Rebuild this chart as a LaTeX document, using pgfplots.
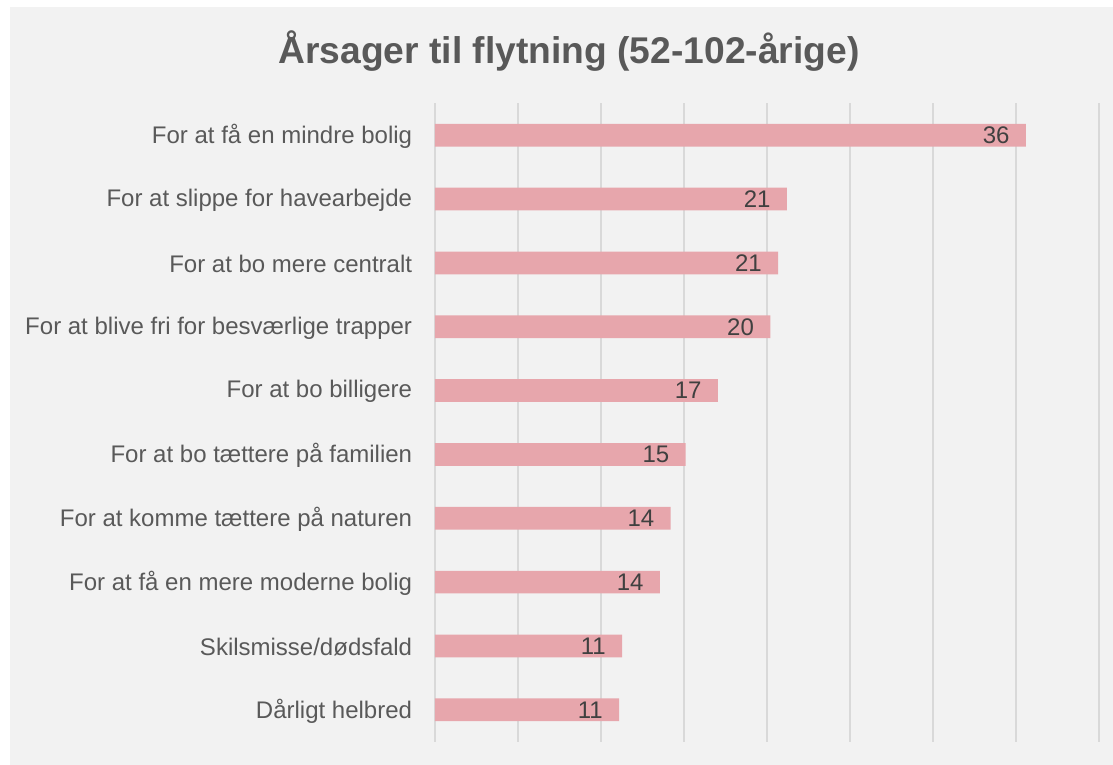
\documentclass[border=0pt]{standalone}
\usepackage{fontspec}
\setmainfont{Liberation Sans}
\usepackage{pgfplots}
\pgfplotsset{compat=1.18}
\definecolor{bgray}{HTML}{F2F2F2}
\definecolor{gridc}{HTML}{D9D9D9}
\definecolor{barc}{HTML}{E7A6AC}
\definecolor{labc}{HTML}{595959}
\definecolor{valc}{HTML}{404040}

\begin{document}
\begin{tikzpicture}
% canvas: 1 px = 0.5pt, axis south west at origin
\path[use as bounding box,fill=white] (-217.5pt,-11.65pt) rectangle (339pt,370.85pt);
\fill[bgray] (-212.5pt,-11.65pt) rectangle (339pt,367.35pt);
\begin{axis}[
  at={(0,0)}, anchor=south west,
  scale only axis,
  width=332pt, height=319.2pt,
  xbar,
  bar width=11.35pt,
  xmin=0, xmax=40,
  ymin=-0.5, ymax=9.5,
  y dir=reverse,
  xtick={0,5,...,40},
  xticklabels={},
  xmajorgrids,
  grid style={gridc,line width=0.75pt},
  axis line style={draw=none},
  tick style={draw=none},
  ytick={0,...,9},
  yticklabels={For at få en mindre bolig,For at slippe for havearbejde,For at bo mere centralt,For at blive fri for besværlige trapper,For at bo billigere,For at bo tættere på familien,For at komme tættere på naturen,For at få en mere moderne bolig,Skilsmisse/dødsfald,Dårligt helbred},
  yticklabel style={font=\fontsize{12}{14}\selectfont,text=labc,anchor=east,inner sep=0pt,xshift=-7pt,yshift=-0.6pt},
  /pgf/number format/assume math mode=true,
  nodes near coords={\pgfmathprintnumber[fixed,precision=0]{\pgfplotspointmeta}},
  nodes near coords style={font=\fontsize{12}{14}\selectfont,text=valc,anchor=east,inner sep=0pt,xshift=-8pt},
  clip=false
]
\addplot+[fill=barc,draw=none] coordinates {
  (35.6,0) (21.2,1) (20.67,2) (20.2,3) (17.04,4)
  (15.1,5) (14.2,6) (13.55,7) (11.28,8) (11.09,9)};
\end{axis}
\node[anchor=base,text=labc,font=\fontsize{18.6}{22}\selectfont\bfseries] at (67pt,339pt) {Årsager til flytning (52-102-årige)};
\end{tikzpicture}
\end{document}
